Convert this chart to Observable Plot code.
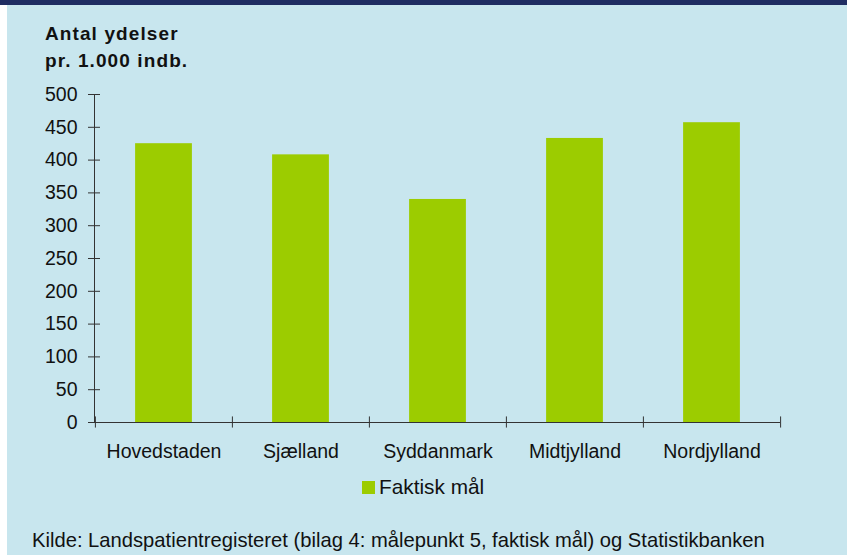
<!DOCTYPE html>
<html>
<head>
<meta charset="utf-8">
<script src="https://cdn.jsdelivr.net/npm/d3@7"></script>
<script src="https://cdn.jsdelivr.net/npm/@observablehq/plot@0.6"></script>
<style>
  html, body { margin: 0; padding: 0; background: #ffffff; }
  #wrap { position: relative; width: 847px; height: 555px; overflow: hidden; background: #ffffff; font-family: "Liberation Sans", Arial, sans-serif; }
  #bg { position: absolute; left: 7px; top: 0; width: 840px; height: 555px; background: #c8e6ee; }
  #topbar { position: absolute; left: 0; top: 0; width: 847px; height: 5px; background: #1f2d62; }
  #chart { position: absolute; left: 0; top: 0; }
  .title { position: absolute; left: 45px; font-weight: bold; font-size: 19px; letter-spacing: 1.1px; color: #111; white-space: nowrap; }
  #legend { position: absolute; left: 362px; top: 475px; font-size: 20.8px; color: #111; white-space: nowrap; display: flex; align-items: center; }
  #legend .sw { width: 13px; height: 13px; background: #9ccc00; margin-right: 4px; }
  #caption { position: absolute; left: 32px; top: 529px; font-size: 20.2px; color: #111; white-space: nowrap; }
</style>
</head>
<body>
<div id="wrap">
  <div id="bg"></div>
  <div id="topbar"></div>
  <div id="chart"></div>
  <div class="title" style="top:23px">Antal ydelser</div>
  <div class="title" style="top:50px">pr. 1.000 indb.</div>
  <div id="legend"><div class="sw"></div><span>Faktisk mål</span></div>
  <div id="caption">Kilde: Landspatientregisteret (bilag 4: målepunkt 5, faktisk mål) og Statistikbanken</div>
</div>
<script>
const categories = ["Hovedstaden", "Sjælland", "Syddanmark", "Midtjylland", "Nordjylland"];
const values = [425, 408, 340, 433, 457];
const yTicks = [0, 50, 100, 150, 200, 250, 300, 350, 400, 450, 500];
const seriesName = "Faktisk mål";

const data = categories.map((c, i) => ({region: c, value: values[i]}));

const W = 847, H = 555;
const mL = 94, mR = 67, mT = 94, mB = 133;
const step = (W - mL - mR) / categories.length;
const barW = 57;
const inset = (step - barW) / 2;
const axisColor = "#333";

const chart = Plot.plot({
  width: W,
  height: H,
  marginLeft: mL,
  marginRight: mR,
  marginTop: mT,
  marginBottom: mB,
  style: {background: "transparent", fontFamily: "'Liberation Sans', Arial, sans-serif", fontSize: "19.5px", color: "#111", overflow: "visible"},
  x: {domain: categories, padding: 0, label: null},
  y: {domain: [0, 500], label: null},
  marks: [
    Plot.barY(data, {x: "region", y: "value", fill: "#9ccc00", insetLeft: inset, insetRight: inset}),
    Plot.frame({anchor: "left", stroke: axisColor}),
    Plot.ruleY([0], {stroke: axisColor}),
    Plot.axisY(yTicks, {tickSize: 12, dx: 6, text: null, stroke: axisColor, label: null}),
    Plot.axisY(yTicks, {tickSize: 0, tickPadding: 17, fontSize: 19.5, fill: "#111", label: null}),
    Plot.ruleX(categories, {x: d => d, dx: -step / 2, y1: -8.5, y2: 8.5, stroke: axisColor}),
    Plot.ruleX(categories.slice(-1), {x: d => d, dx: step / 2, y1: -8.5, y2: 8.5, stroke: axisColor}),
    Plot.axisX(categories, {tickSize: 0, tickPadding: 22, fontSize: 19.5, fill: "#111", label: null, style: {letterSpacing: "0.2px"}})
  ]
});
document.getElementById("chart").appendChild(chart);
</script>
</body>
</html>
